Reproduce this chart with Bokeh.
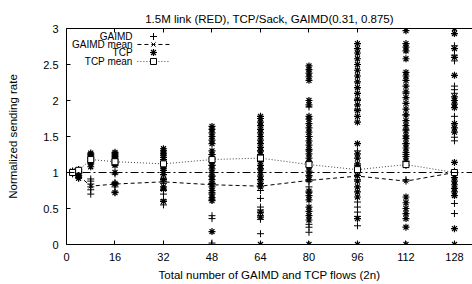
from bokeh.plotting import figure
from bokeh.models import Range1d, LinearAxis, Span, Label, FixedTicker
from bokeh.embed import file_html
from bokeh.resources import INLINE

# ---------------- data ----------------
flows = [2, 4, 8, 16, 32, 48, 64, 80, 96, 112, 128]

gaimd_2 = [0.98, 1.00, 1.01]
gaimd_4 = [0.93, 0.96, 0.99, 1.02]
gaimd_8 = [0.70, 0.76, 0.80, 0.84, 0.88, 0.91]
gaimd_16 = [0.73, 0.80, 0.83, 0.86, 0.98]
gaimd_32 = [0.55, 0.62, 0.70, 0.75, 0.85, 0.88, 0.92]
gaimd_48 = [0.02, 0.36, 0.40, 0.62, 0.72, 0.85, 0.95, 1.10, 1.25]
gaimd_64 = [0.15, 0.35, 0.40, 0.44, 0.48, 0.52, 0.64, 0.75, 0.90, 1.05, 1.30, 1.50]
gaimd_80 = [0.17, 0.24, 0.28, 0.72, 0.80, 0.88, 0.95, 1.15, 1.30, 1.50, 1.91]
gaimd_96 = [0.26, 0.39, 0.45, 0.52, 0.59, 0.90, 1.10, 1.30, 1.88, 2.00]
gaimd_112 = [0.88, 0.90, 1.15, 1.25, 1.40, 1.60, 1.80, 2.10]
gaimd_128 = [0.43, 0.57, 1.02, 1.44, 1.49, 1.78, 2.10, 2.15, 2.20, 2.55, 2.63, 2.76]

tcp_2 = [0.99, 1.00, 1.02]
tcp_4 = [0.92, 0.95, 0.98, 1.01, 1.04]
tcp_8 = [1.08, 1.12, 1.15, 1.17, 1.19, 1.21, 1.23, 1.25, 1.27]
tcp_16 = [0.72, 0.85, 1.00, 1.10, 1.12, 1.14, 1.16, 1.18, 1.20, 1.22, 1.24, 1.26, 1.28]
tcp_32 = [0.60, 0.77, 0.80, 0.90, 0.97, 1.00, 1.03, 1.06, 1.09, 1.12, 1.15, 1.18,
          1.21, 1.24, 1.27, 1.30, 1.33]
tcp_48 = [0.18, 0.61, 0.65, 0.70, 0.75, 0.80, 0.85, 0.90, 0.95, 1.00, 1.05, 1.10,
          1.15, 1.20, 1.25, 1.30, 1.40, 1.45, 1.50, 1.55, 1.60, 1.64]
tcp_64 = [0.00, 0.38, 0.45, 0.80, 0.85, 0.90, 0.95, 1.00, 1.05, 1.10, 1.15, 1.20,
          1.25, 1.30, 1.35, 1.40, 1.45, 1.50, 1.55, 1.60, 1.65, 1.70, 1.75, 1.78]
tcp_80 = [0.00, 0.34, 0.40, 0.46, 0.52, 0.62, 0.68, 0.74, 0.90, 0.96, 1.02, 1.08,
          1.14, 1.20, 1.26, 1.32, 1.38, 1.44, 1.50, 1.56, 1.62, 1.68, 1.74, 1.78,
          1.94, 2.00, 2.28, 2.33, 2.38, 2.43, 2.48]
tcp_96 = [0.00, 0.36, 0.66, 0.73, 0.80, 0.88, 0.96, 1.04, 1.12, 1.20, 1.26, 1.40,
          1.70, 1.78, 1.86, 1.94, 2.02, 2.10, 2.18, 2.26, 2.34, 2.42, 2.50, 2.58,
          2.66, 2.72, 2.79]
tcp_112 = [0.00, 0.24, 0.36, 0.43, 0.50, 0.58, 0.66, 1.10, 1.16, 1.22, 1.28, 1.34,
           1.40, 1.47, 1.51, 1.58, 1.65, 1.72, 1.80, 1.88, 1.96, 2.04, 2.12, 2.20,
           2.28, 2.34, 2.39, 2.58, 2.69, 2.74, 2.79, 2.97]
tcp_128 = [0.00, 0.22, 0.68, 0.73, 0.78, 0.83, 0.88, 0.93, 1.00, 1.14, 1.56, 1.62,
           1.68, 1.90, 1.95, 2.00, 2.05, 2.35, 2.60, 2.72, 2.93, 3.00]

gaimd_mean = [1.00, 0.96, 0.81, 0.84, 0.87, 0.83, 0.81, 0.89, 0.95, 0.88, 1.00]
tcp_mean = [1.00, 1.03, 1.18, 1.15, 1.12, 1.18, 1.20, 1.11, 1.04, 1.11, 1.00]
fair_share = 1.0

x_ticks = [0, 16, 32, 48, 64, 80, 96, 112, 128]
y_ticks = [0, 0.5, 1, 1.5, 2, 2.5, 3]
y_tick_labels = ["0", "0.5", "1", "1.5", "2", "2.5", "3"]

title_text = "1.5M link (RED), TCP/Sack, GAIMD(0.31, 0.875)"
x_label_text = "Total number of GAIMD and TCP flows (2n)"
y_label_text = "Normalized sending rate"

gaimd_cols = [gaimd_2, gaimd_4, gaimd_8, gaimd_16, gaimd_32, gaimd_48, gaimd_64,
              gaimd_80, gaimd_96, gaimd_112, gaimd_128]
tcp_cols = [tcp_2, tcp_4, tcp_8, tcp_16, tcp_32, tcp_48, tcp_64, tcp_80, tcp_96,
            tcp_112, tcp_128]

gx, gy, tx, ty = [], [], [], []
for n, col in zip(flows, gaimd_cols):
    gx += [n] * len(col)
    gy += col
for n, col in zip(flows, tcp_cols):
    tx += [n] * len(col)
    ty += col

# ---------------- figure ----------------
FONT = "Liberation Sans"
X_END = 133.95

p = figure(frame_width=406, frame_height=216, x_range=Range1d(0, X_END),
           y_range=Range1d(0, 3), output_backend="svg", toolbar_location=None,
           min_border_left=66, min_border_right=0, min_border_top=28,
           min_border_bottom=40, x_axis_label=x_label_text,
           y_axis_label=y_label_text, title=title_text)
p.outline_line_color = None
p.grid.visible = False
p.background_fill_color = "white"
p.border_fill_color = "white"

p.title.align = "center"
p.title.offset = 3
p.title.standoff = 8
p.title.text_font = FONT
p.title.text_font_size = "11.5px"
p.title.text_font_style = "normal"
p.title.text_color = "black"

for ax in (p.xaxis[0], p.yaxis[0]):
    ax.major_tick_in = 4
    ax.major_tick_out = 0
    ax.minor_tick_line_color = None
    ax.axis_line_color = "black"
    ax.major_tick_line_color = "black"
    ax.major_label_text_font = FONT
    ax.major_label_text_font_size = "11px"
    ax.major_label_text_color = "black"
    ax.axis_label_text_font = FONT
    ax.axis_label_text_font_size = "11.5px"
    ax.axis_label_text_font_style = "normal"
    ax.axis_label_text_color = "black"

p.xaxis[0].ticker = FixedTicker(ticks=x_ticks)
p.xaxis[0].major_label_standoff = 8
p.xaxis[0].axis_label_standoff = 5
p.yaxis[0].ticker = FixedTicker(ticks=y_ticks)
p.yaxis[0].major_label_overrides = {t: s for t, s in zip(y_ticks, y_tick_labels)}
p.yaxis[0].major_label_standoff = 8
p.yaxis[0].axis_label_standoff = 21

top = LinearAxis(ticker=FixedTicker(ticks=x_ticks), major_label_text_font_size="1px",
                 major_label_text_color=None, major_tick_in=4, major_tick_out=0,
                 minor_tick_line_color=None, major_label_standoff=0,
                 axis_line_color="black")
p.add_layout(top, "above")

# reference line
p.add_layout(Span(location=fair_share, dimension="width", line_color="black",
                  line_width=1, line_dash="8 3 2 3"))

# points
p.scatter(gx, gy, marker="cross", size=7, line_color="black", line_width=1)
p.scatter(tx, ty, marker="asterisk", size=7, line_color="black", line_width=1.2)

# means
p.line(flows, gaimd_mean, line_color="black", line_width=1, line_dash="4 3")
p.scatter(flows, gaimd_mean, marker="x", size=6, line_color="black", line_width=1)
p.line(flows, tcp_mean, line_color="#444444", line_width=1, line_dash="1 2")
p.scatter(flows, tcp_mean, marker="square", size=6, line_color="black",
          fill_color="white", line_width=1)

# gnuplot-style key (text right-aligned, sample on the right)
leg_text_x = 21.8
leg_line = [23.4, 34.0]
leg_mark_x = 28.7
leg_rows = [2.889, 2.778, 2.667, 2.542]
leg_names = ["GAIMD", "GAIMD mean", "TCP", "TCP mean"]
for name, yy in zip(leg_names, leg_rows):
    p.add_layout(Label(x=leg_text_x, y=yy, text=name, text_align="right",
                       text_baseline="middle", text_font=FONT, text_font_size="10px",
                       text_color="black"))
p.scatter([leg_mark_x], [leg_rows[0]], marker="cross", size=7, line_color="black")
p.line(leg_line, [leg_rows[1]] * 2, line_color="black", line_dash="4 3")
p.scatter([leg_mark_x], [leg_rows[1]], marker="x", size=6, line_color="black")
p.scatter([leg_mark_x], [leg_rows[2]], marker="asterisk", size=7, line_color="black",
          line_width=1.2)
p.line(leg_line, [leg_rows[3]] * 2, line_color="#444444", line_dash="1 2")
p.scatter([leg_mark_x], [leg_rows[3]], marker="square", size=6, line_color="black",
          fill_color="white")

open("out.html", "w").write(file_html(p, INLINE))
